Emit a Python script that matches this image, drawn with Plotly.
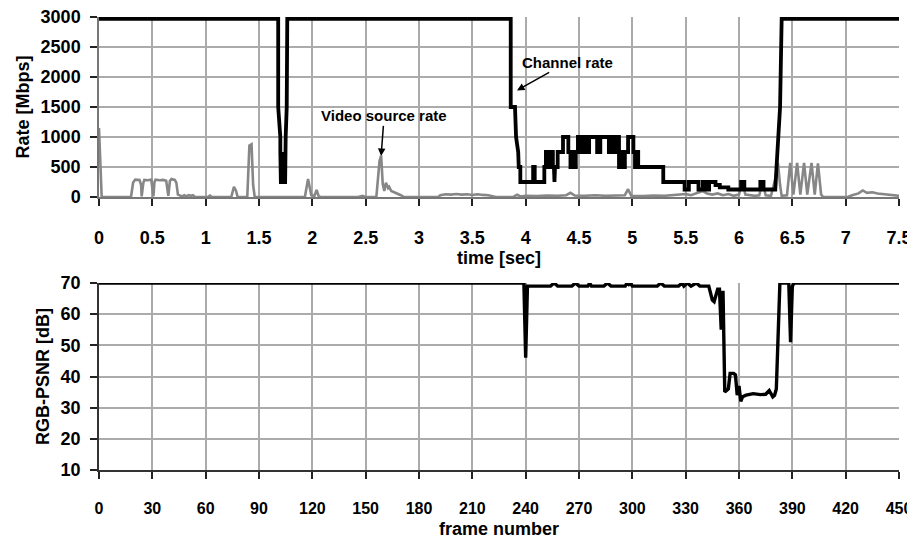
import plotly.graph_objects as go

# ---------------- data ----------------
# Upper panel: video source rate (grey) over time
video_time_s = [
    0.00, 0.01, 0.025, 0.30, 0.32, 0.34, 0.38, 0.395, 0.40, 0.415, 0.425, 0.46, 0.49, 0.50,
    0.51, 0.52, 0.53, 0.57, 0.60, 0.63, 0.64, 0.65, 0.665, 0.68, 0.71, 0.725, 0.74, 0.76,
    0.78, 0.80, 0.82, 0.84, 0.86, 0.88, 0.90, 1.02, 1.04, 1.06, 1.24, 1.265, 1.285, 1.30,
    1.39, 1.41, 1.43, 1.445, 1.46, 1.93, 1.96, 1.99, 2.02, 2.04, 2.06, 2.08, 2.43, 2.47,
    2.50, 2.60, 2.63, 2.645, 2.66, 2.675, 2.69, 2.71, 2.72, 2.74, 2.77, 2.80, 2.83, 2.86,
    3.18, 3.20, 3.25, 3.30, 3.35, 3.40, 3.45, 3.50, 3.55, 3.60, 3.65, 3.70, 3.72, 3.88,
    3.92, 3.95, 4.00, 4.10, 4.20, 4.30, 4.38, 4.42, 4.46, 4.55, 4.65, 4.75, 4.85, 4.93,
    4.96, 4.99, 5.10, 5.20, 5.30, 5.40, 5.50, 5.55, 5.62, 5.66, 5.70, 5.75, 5.80, 5.85,
    5.90, 5.95, 6.00, 6.03, 6.06, 6.10, 6.15, 6.19, 6.22, 6.25, 6.30, 6.34, 6.365, 6.385,
    6.40, 6.45, 6.48, 6.51, 6.545, 6.575, 6.61, 6.64, 6.68, 6.71, 6.74, 6.77, 6.79, 7.02,
    7.06, 7.12, 7.16, 7.20, 7.25, 7.30, 7.35, 7.40, 7.45, 7.50,
]
video_rate_mbps = [
    1150, 600, 0, 0, 240, 290, 285, 200, 10, 230, 285, 280, 290, 150,
    10, 250, 290, 280, 285, 270, 120, 20, 270, 300, 285, 240, 40, 30,
    10, 30, 10, 30, 20, 30, 0, 0, 25, 0, 0, 170, 100, 0,
    0, 860, 880, 200, 0, 0, 300, 30, 20, 120, 10, 0, 0, 20,
    0, 0, 600, 690, 220, 100, 240, 150, 170, 100, 80, 50, 30, 0,
    0, 30, 45, 40, 50, 40, 45, 35, 45, 35, 30, 10, 0, 0,
    40, 10, 20, 15, 25, 20, 30, 70, 25, 20, 30, 20, 25, 30,
    130, 20, 15, 25, 20, 30, 50, 30, 80, 100, 60, 40, 60, 30,
    50, 20, 40, 250, 40, 30, 20, 30, 260, 30, 20, 300, 570, 200,
    20, 30, 570, 40, 570, 40, 570, 40, 570, 40, 560, 40, 0, 0,
    30, 60, 110, 70, 80, 60, 50, 40, 30, 20,
]

# Upper panel: channel rate (black) over time
channel_time_s = [
    0.00, 1.68, 1.68, 1.70, 1.70, 1.705, 1.705, 1.72, 1.72, 1.73, 1.73, 1.745, 1.745, 1.75,
    1.76, 1.765, 3.86, 3.86, 3.90, 3.91, 3.93, 3.935, 3.95, 3.95, 4.07, 4.07, 4.085, 4.085,
    4.175, 4.175, 4.19, 4.19, 4.20, 4.20, 4.215, 4.215, 4.23, 4.23, 4.245, 4.245, 4.255,
    4.255, 4.265, 4.27, 4.275, 4.30, 4.30, 4.35, 4.35, 4.40, 4.40, 4.42, 4.42, 4.435,
    4.435, 4.455, 4.455, 4.47, 4.47, 4.49, 4.49, 4.51, 4.51, 4.525, 4.525, 4.545, 4.545,
    4.56, 4.56, 4.58, 4.58, 4.595, 4.595, 4.67, 4.67, 4.70, 4.70, 4.78, 4.78, 4.80, 4.80,
    4.82, 4.82, 4.84, 4.84, 4.875, 4.875, 4.89, 4.89, 4.91, 4.91, 4.93, 4.93, 4.96, 4.96,
    5.01, 5.01, 5.025, 5.025, 5.04, 5.04, 5.055, 5.055, 5.07, 5.29, 5.29, 5.49, 5.49,
    5.53, 5.53, 5.62, 5.62, 5.66, 5.66, 5.69, 5.69, 5.72, 5.72, 5.78, 5.78, 5.82, 5.82,
    5.90, 5.90, 6.02, 6.02, 6.05, 6.05, 6.20, 6.20, 6.23, 6.23, 6.34, 6.36, 6.37, 6.385,
    6.40, 7.50,
]
channel_rate_mbps = [
    2970, 2970, 1500, 1000, 750, 500, 250, 250, 750, 500, 250, 250, 750, 1000,
    1500, 2970, 2970, 1500, 1500, 1000, 750, 500, 500, 250, 250, 500, 500, 250,
    250, 500, 500, 750, 750, 500, 500, 750, 750, 500, 500, 750, 750,
    500, 500, 250, 500, 500, 750, 750, 1000, 1000, 750, 750, 500, 500,
    750, 750, 500, 500, 750, 750, 1000, 1000, 750, 750, 1000, 1000, 750,
    750, 1000, 1000, 750, 750, 1000, 1000, 750, 750, 1000, 1000, 750, 750, 1000,
    1000, 750, 750, 1000, 1000, 500, 500, 750, 750, 500, 500, 750, 750, 1000,
    1000, 750, 750, 500, 500, 750, 750, 500, 500, 500, 250, 250, 125,
    125, 250, 250, 125, 125, 250, 250, 125, 125, 250, 250, 200, 200, 160,
    160, 125, 125, 250, 250, 125, 125, 250, 250, 125, 125, 750, 1000, 1500,
    2970, 2970,
]

# Lower panel: RGB-PSNR per frame
frame_number = [
    0, 239, 240, 241, 254, 256, 258, 266, 268, 270, 275, 276, 277, 284, 286, 288,
    296, 297, 298, 299, 300, 314, 316, 318, 326, 328, 329, 331, 333, 336, 338, 343,
    345, 346, 348, 349, 350, 351, 352, 353, 354, 355, 357, 358, 359, 360, 361, 362,
    364, 368, 372, 375, 377, 379, 380, 381, 382, 383, 388, 389, 390, 391, 450,
]
rgb_psnr_db = [
    70, 70, 46, 69, 69, 70, 69, 69, 70, 69, 69, 70, 69, 69, 70, 69,
    69, 70, 69.5, 70, 69, 69, 70, 69, 69, 70, 69, 70, 69, 70, 69, 69,
    64.5, 64, 68, 68, 55, 67.5, 35, 35.5, 36, 41, 41, 40.5, 34, 37, 32, 33.5,
    34, 34.5, 34.2, 34.3, 35.5, 33.5, 34, 36, 55, 70, 70, 51, 69, 70, 70,
]

# Tick values / labels
time_ticks = [0, 0.5, 1, 1.5, 2, 2.5, 3, 3.5, 4, 4.5, 5, 5.5, 6, 6.5, 7, 7.5]
time_tick_labels = ["0", "0.5", "1", "1.5", "2", "2.5", "3", "3.5", "4", "4.5",
                    "5", "5.5", "6", "6.5", "7", "7.5"]
rate_ticks = [0, 500, 1000, 1500, 2000, 2500, 3000]
frame_ticks = [0, 30, 60, 90, 120, 150, 180, 210, 240, 270, 300, 330, 360, 390, 420, 450]
psnr_ticks = [10, 20, 30, 40, 50, 60, 70]

# ---------------- figure ----------------
FAMILY = "Liberation Sans, Arial, sans-serif"


def bold(size):
    return dict(family=FAMILY, size=size, color="black", weight="bold")


fig = go.Figure()
fig.add_trace(go.Scatter(
    x=video_time_s, y=video_rate_mbps, mode="lines", name="Video source rate",
    line=dict(color="#878787", width=2.6), xaxis="x", yaxis="y", cliponaxis=False,
))
fig.add_trace(go.Scatter(
    x=channel_time_s, y=channel_rate_mbps, mode="lines", name="Channel rate",
    line=dict(color="black", width=3.8), xaxis="x", yaxis="y", cliponaxis=False,
))
fig.add_trace(go.Scatter(
    x=frame_number, y=rgb_psnr_db, mode="lines", name="RGB-PSNR",
    line=dict(color="black", width=3.4), xaxis="x2", yaxis="y2", cliponaxis=False,
))

common = dict(
    showgrid=True, gridcolor="#ababab", gridwidth=1.6,
    ticks="outside", ticklen=7, tickwidth=1.5, tickcolor="#222222",
    showline=True, linewidth=1.5, zeroline=False, automargin=False,
    layer="below traces", ticklabeloverflow="allow",
)

# The page body adds an 8px offset, so the figure is 8px smaller than the window.
fig.update_layout(
    template="none",
    width=907, height=536,
    margin=dict(l=91, r=16, t=9, b=74, autoexpand=False),
    paper_bgcolor="white", plot_bgcolor="white",
    font=bold(18),
    showlegend=False,
    xaxis=dict(
        domain=[0, 1], anchor="y", range=[0, 7.5],
        tickmode="array", tickvals=time_ticks, ticktext=time_tick_labels,
        tickfont=bold(18), ticklabelstandoff=17,
        title=dict(text="time [sec]", font=bold(18), standoff=4),
        linecolor="#777777", **common,
    ),
    yaxis=dict(
        domain=[0.6026, 1], anchor="x", range=[0, 3000],
        tickmode="array", tickvals=rate_ticks,
        tickfont=bold(18), ticklabelstandoff=6,
        title=dict(text="Rate [Mbps]", font=bold(18), standoff=6),
        linecolor="#777777", **common,
    ),
    xaxis2=dict(
        domain=[0, 1], anchor="y2", range=[0, 450],
        tickmode="array", tickvals=frame_ticks,
        tickfont=bold(16), ticklabelstandoff=16,
        title=dict(text="frame number", font=bold(18), standoff=6),
        linecolor="#333333", **common,
    ),
    yaxis2=dict(
        domain=[0, 0.4128], anchor="x2", range=[10, 70],
        tickmode="array", tickvals=psnr_ticks,
        tickfont=bold(18), ticklabelstandoff=6,
        title=dict(text="RGB-PSNR [dB]", font=bold(18), standoff=6),
        linecolor="#333333", **common,
    ),
    annotations=[
        dict(text="Video source rate", x=2.645, y=685, xref="x", yref="y",
             ax=3, ay=-40, showarrow=True, arrowhead=2, arrowsize=1,
             arrowwidth=1.5, arrowcolor="black", font=bold(15)),
        dict(text="Channel rate", x=3.919, y=1777, xref="x", yref="y",
             ax=50, ay=-28, showarrow=True, arrowhead=2, arrowsize=1,
             arrowwidth=1.5, arrowcolor="black", font=bold(15)),
    ],
)

fig.write_html("out.html")
